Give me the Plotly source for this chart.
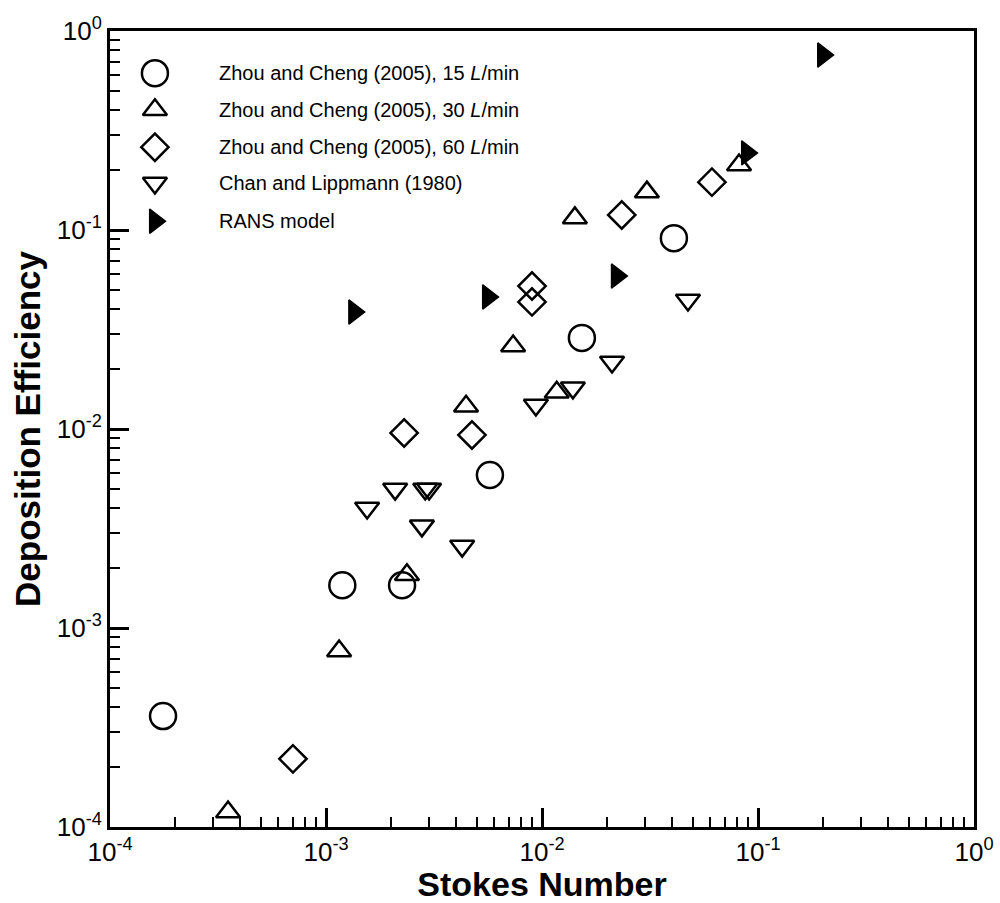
import plotly.graph_objects as go

# ---------------- data ----------------
zc15_x = [1.76e-4, 1.19e-3, 2.25e-3, 5.74e-3, 1.53e-2, 4.08e-2]
zc15_y = [3.61e-4, 1.64e-3, 1.64e-3, 5.87e-3, 2.87e-2, 9.1e-2]

zc30_x = [3.52e-4, 1.15e-3, 2.37e-3, 4.45e-3, 7.35e-3, 1.17e-2, 1.42e-2, 3.06e-2, 8.17e-2]
zc30_y = [1.19e-4, 7.66e-4, 1.85e-3, 1.30e-2, 2.61e-2, 1.53e-2, 0.115, 0.155, 0.212]

zc60_x = [7.03e-4, 2.30e-3, 4.74e-3, 8.99e-3, 8.99e-3, 2.34e-2, 6.12e-2]
zc60_y = [2.20e-4, 9.55e-3, 9.33e-3, 5.23e-2, 4.35e-2, 0.119, 0.174]

cl_x = [1.55e-3, 2.09e-3, 2.88e-3, 3.00e-3, 2.78e-3, 4.27e-3, 9.37e-3, 1.39e-2, 2.11e-2, 4.74e-2]
cl_y = [4.01e-3, 4.99e-3, 5.0e-3, 5.0e-3, 3.26e-3, 2.58e-3, 1.32e-2, 1.61e-2, 2.17e-2, 4.45e-2]

rans_x = [1.35e-3, 5.62e-3, 2.22e-2, 8.89e-2, 0.200]
rans_y = [3.87e-2, 4.61e-2, 5.87e-2, 0.244, 0.757]

tick_vals = [1e-4, 1e-3, 1e-2, 1e-1, 1e0]
tick_text = ["10<sup>-4</sup>", "10<sup>-3</sup>", "10<sup>-2</sup>", "10<sup>-1</sup>", "10<sup>0</sup>"]

series_names = [
    "Zhou and Cheng (2005), 15 <i>L</i>/min",
    "Zhou and Cheng (2005), 30 <i>L</i>/min",
    "Zhou and Cheng (2005), 60 <i>L</i>/min",
    "Chan and Lippmann (1980)",
    "RANS model",
]

# ---------------- styles ----------------
LW = 2.5
styles = [
    dict(symbol="circle-open", size=26, line=dict(width=LW, color="black"), color="black"),
    dict(symbol="triangle-up-open", size=21, line=dict(width=LW, color="black"), color="black"),
    dict(symbol="diamond-open", size=21, line=dict(width=LW, color="black"), color="black"),
    dict(symbol="triangle-down-open", size=21, line=dict(width=LW, color="black"), color="black"),
    dict(symbol="triangle-right", size=21, line=dict(width=1.5, color="black"), color="black"),
]
series = [(zc15_x, zc15_y), (zc30_x, zc30_y), (zc60_x, zc60_y), (cl_x, cl_y), (rans_x, rans_y)]

fig = go.Figure()
for (xs, ys), st, nm in zip(series, styles, series_names):
    fig.add_trace(go.Scatter(x=xs, y=ys, mode="markers", name=nm, marker=st,
                             showlegend=False, cliponaxis=False))

# ---------------- custom legend (large symbols like the reference) ----------------
leg_sym_x = 0.052
leg_txt_x = 0.124
leg_rows_y = [0.947, 0.901, 0.854, 0.809, 0.761]
for st, nm, yy in zip(styles, series_names, leg_rows_y):
    fig.add_trace(go.Scatter(x=[leg_sym_x], y=[yy], mode="markers", marker=st,
                             xaxis="x2", yaxis="y2", showlegend=False, hoverinfo="skip"))
    fig.add_annotation(x=leg_txt_x, y=yy, xref="paper", yref="paper", text=nm,
                       showarrow=False, xanchor="left", yanchor="middle",
                       font=dict(family="Liberation Sans", size=20, color="black"))

axis_common = dict(
    type="log", range=[-4, 0], tickmode="array", tickvals=tick_vals, ticktext=tick_text,
    ticks="inside", ticklen=19, tickwidth=3, tickcolor="black",
    showline=True, linewidth=3, linecolor="black", mirror=True,
    showgrid=False, zeroline=False, automargin=False,
    tickfont=dict(family="Liberation Sans", size=26, color="black"),
    minor=dict(ticks="inside", ticklen=10, tickwidth=1.5, tickcolor="black", dtick="D1", showgrid=False),
)

fig.update_layout(
    width=1000, height=903,
    margin=dict(l=110, r=26, t=31, b=76),
    paper_bgcolor="white", plot_bgcolor="white",
    xaxis=dict(**axis_common,
               title=dict(text="<b>Stokes Number</b>", standoff=8,
                          font=dict(family="Liberation Sans", size=34, color="black"))),
    yaxis=dict(**axis_common,
               title=dict(text="<b>Deposition Efficiency</b>", standoff=6,
                          font=dict(family="Liberation Sans", size=35, color="black"))),
    xaxis2=dict(overlaying="x", anchor="y2", range=[0, 1], visible=False),
    yaxis2=dict(overlaying="y", anchor="x2", range=[0, 1], visible=False),
    showlegend=False,
)

fig.write_html("out.html")
